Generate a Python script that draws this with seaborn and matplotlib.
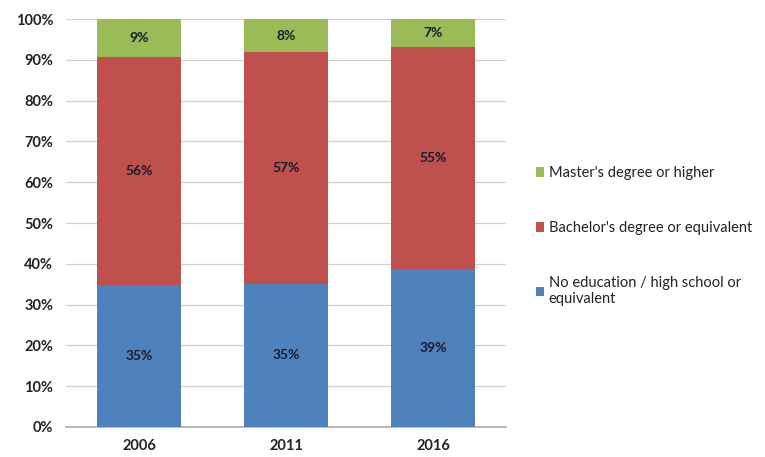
import seaborn as sns
import matplotlib.pyplot as plt
import pandas as pd
from matplotlib.patches import Patch

# ---- data (shares in %)
years = ["2006", "2011", "2016"]
no_education = [34.7, 35.1, 38.6]
bachelor = [56.1, 56.8, 54.6]
master = [9.2, 8.1, 6.8]

series_names = [
    "No education / high school or\nequivalent",
    "Bachelor's degree or equivalent",
    "Master's degree or higher",
]
series_colors = ["#4F81BD", "#C0504D", "#9BBB59"]
y_ticks = list(range(0, 101, 10))

sns.set_theme(style="white")
plt.rcParams["font.family"] = ["Lato", "DejaVu Sans"]

df = pd.DataFrame({"year": years, "no_edu": no_education,
                   "bachelor": bachelor, "master": master})

fig = plt.figure(figsize=(7.65, 4.57), dpi=100)
ax = fig.add_axes([0.086, 0.066, 0.576, 0.892])

bottom = [0.0] * len(years)
for col, color in zip(["no_edu", "bachelor", "master"], series_colors):
    sns.barplot(data=df, x="year", y=col, color=color, bottom=bottom,
                width=0.57, ax=ax, saturation=1, linewidth=0, zorder=3)
    bars = ax.containers[-1]
    ax.bar_label(bars, labels=[f"{v:.0f}%" for v in df[col]],
                 label_type="center", fontsize=10, fontweight="bold",
                 color="#1a1a2e")
    bottom = [b + v for b, v in zip(bottom, df[col])]

ax.set_ylim(0, 100)
ax.set_xlim(-0.5, 2.5)
ax.set_yticks(y_ticks)
ax.set_yticklabels([f"{t}%" for t in y_ticks])
ax.set_xlabel("")
ax.set_ylabel("")
ax.yaxis.grid(True, color="#d0d0d0", linewidth=0.9, zorder=0)
ax.set_axisbelow(True)
for side in ["left", "right", "top"]:
    ax.spines[side].set_visible(False)
ax.spines["bottom"].set_color("#b0b0b0")
ax.tick_params(axis="both", length=0, labelsize=10.5, colors="#222222")
ax.tick_params(axis="y", pad=9)
ax.tick_params(axis="x", pad=9)
for lbl in ax.get_xticklabels() + ax.get_yticklabels():
    lbl.set_fontweight("bold")

handles = [Patch(facecolor=c, edgecolor="none") for c in series_colors]
fig.legend(handles[::-1], series_names[::-1], loc="upper left",
           bbox_to_anchor=(0.683, 0.665), frameon=False, fontsize=10.5,
           handlelength=0.6, handleheight=0.6, handletextpad=0.3,
           labelspacing=2.8, labelcolor="#222222")

fig.savefig("out.png", dpi=100)
